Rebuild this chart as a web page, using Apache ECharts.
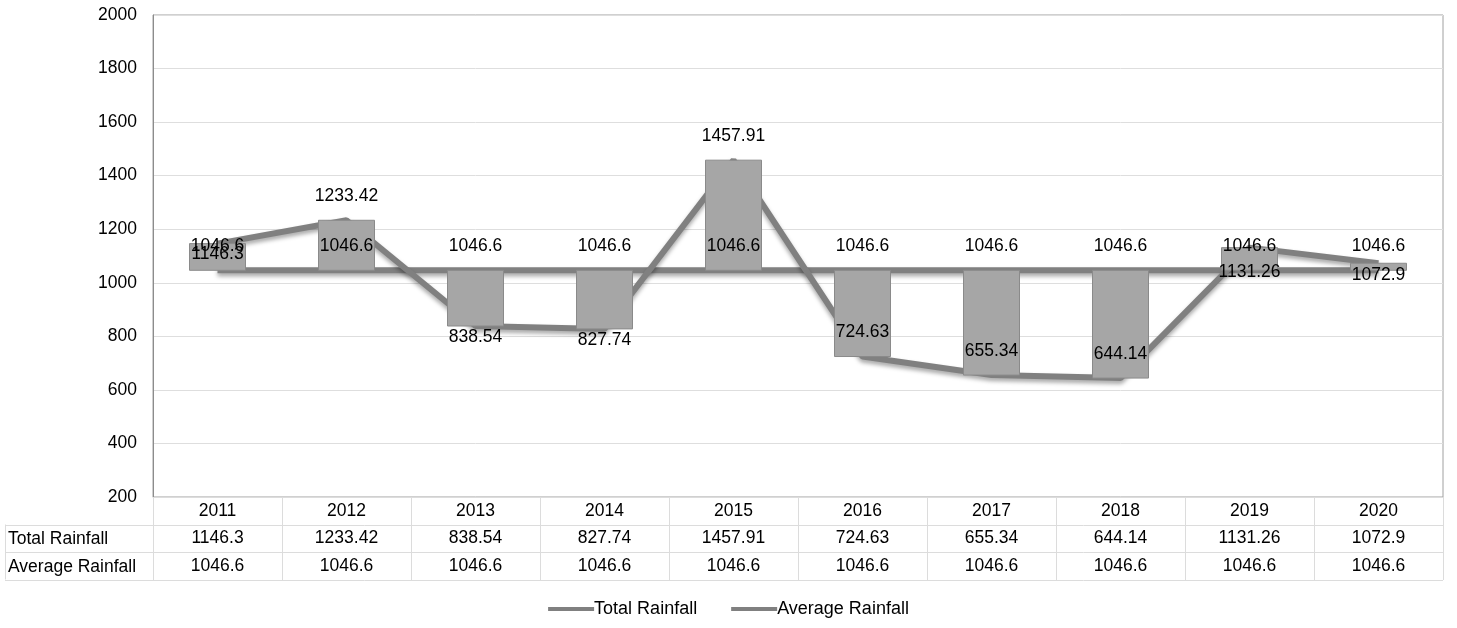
<!DOCTYPE html>
<html>
<head>
<meta charset="utf-8">
<script src="https://cdn.jsdelivr.net/npm/echarts@6/dist/echarts.min.js"></script>
<style>html,body{margin:0;padding:0;background:#fff;}#c{width:1457px;height:628px;}</style>
</head>
<body>
<div id="c"></div>
<script>
const years = ['2011','2012','2013','2014','2015','2016','2017','2018','2019','2020'];
const totalRainfall = [1146.3, 1233.42, 838.54, 827.74, 1457.91, 724.63, 655.34, 644.14, 1131.26, 1072.9];
const averageRainfall = [1046.6, 1046.6, 1046.6, 1046.6, 1046.6, 1046.6, 1046.6, 1046.6, 1046.6, 1046.6];
const yTicks = [200, 400, 600, 800, 1000, 1200, 1400, 1600, 1800, 2000];

// label placement for Total Rainfall value labels (style only)
const totalLabelPlacement = [
  ['bottom', 2], ['top', 15], ['bottom', 2], ['bottom', 2], ['top', 15],
  ['top', 15], ['top', 15], ['top', 15], ['bottom', 16], ['bottom', 3]
];

const FONT = 'Liberation Sans, Arial, sans-serif';
const FS = 17.5;
const G = { left: 153, right: 14, top: 15, bottom: 131 };
const W = 1457, H = 628;
const plotBottom = H - G.bottom;
const plotRight = W - G.right;
const rowH = 27.5;

const chart = echarts.init(document.getElementById('c'));

const totalLabelData = totalRainfall.map((v, i) => ({
  value: [i, v],
  label: { position: totalLabelPlacement[i][0], distance: totalLabelPlacement[i][1] }
}));
const avgLabelData = averageRainfall.map((v, i) => [i, v]);
const upDown = totalRainfall.map((v, i) => {
  const a = averageRainfall[i];
  return [a, v, Math.min(a, v), Math.max(a, v)];
});

const tableLineStyle = { stroke: '#dcdcdc', lineWidth: 1 };
const graphics = [];
[1, 2, 3].forEach(k => {
  const y = Math.round(plotBottom + k * rowH) + 0.5;
  graphics.push({ type: 'line', silent: true, shape: { x1: 5, y1: y, x2: plotRight, y2: y }, style: tableLineStyle });
});
graphics.push({ type: 'line', silent: true, shape: { x1: 5.5, y1: plotBottom + rowH, x2: 5.5, y2: plotBottom + 3 * rowH }, style: tableLineStyle });
graphics.push({ type: 'text', silent: true, style: { text: 'Total Rainfall', x: 8, y: plotBottom + 1.5 * rowH + 1, verticalAlign: 'middle', font: FS + 'px ' + FONT, fill: '#000' } });
graphics.push({ type: 'text', silent: true, style: { text: 'Average Rainfall', x: 8, y: plotBottom + 2.5 * rowH + 1, verticalAlign: 'middle', font: FS + 'px ' + FONT, fill: '#000' } });

const baseXAxis = {
  type: 'category',
  data: years,
  boundaryGap: true,
  position: 'bottom',
  axisLine: { show: false },
  axisTick: { show: false },
  splitLine: { show: false }
};
const tblLabel = { interval: 0, margin: 5, fontFamily: FONT, fontSize: FS, color: '#000' };
const lineStyleCommon = { color: '#808080', width: 6, shadowColor: 'rgba(0,0,0,0.35)', shadowBlur: 4, shadowOffsetY: 3 };
const valueLabel = { show: true, fontFamily: FONT, fontSize: FS, color: '#000' };

chart.setOption({
  animation: false,
  backgroundColor: '#fff',
  grid: { left: G.left, right: G.right, top: G.top, bottom: G.bottom, show: true, borderColor: '#a0a0a0', borderWidth: 1, backgroundColor: 'transparent' },
  legend: {
    bottom: 5,
    left: 'center',
    data: ['Total Rainfall', 'Average Rainfall'],
    icon: 'rect',
    itemWidth: 46,
    itemHeight: 4,
    itemGap: 34,
    textStyle: { fontFamily: FONT, fontSize: 18, color: '#000', padding: [0, 0, 0, -5] }
  },
  xAxis: [
    Object.assign({}, baseXAxis, {
      axisLine: { show: true, lineStyle: { color: '#dcdcdc' } },
      axisTick: { show: true, length: Math.round(3 * rowH), interval: 0, lineStyle: { color: '#dcdcdc' } },
      axisLabel: tblLabel
    }),
    Object.assign({}, baseXAxis, {
      offset: rowH,
      data: totalRainfall.map(String),
      axisLabel: tblLabel
    }),
    Object.assign({}, baseXAxis, {
      offset: 2 * rowH,
      data: averageRainfall.map(String),
      axisLabel: tblLabel
    })
  ],
  yAxis: {
    type: 'value',
    min: yTicks[0],
    max: yTicks[yTicks.length - 1],
    interval: 200,
    axisLine: { show: true, lineStyle: { color: '#8c8c8c' } },
    axisTick: { show: false },
    axisLabel: { margin: 16, fontFamily: FONT, fontSize: FS, color: '#000', formatter: v => String(v) },
    splitLine: { lineStyle: { color: '#dedede' } }
  },
  series: [
    {
      name: 'Average Rainfall',
      type: 'line',
      data: averageRainfall,
      symbol: 'none',
      z: 2,
      lineStyle: lineStyleCommon,
      itemStyle: { color: '#808080' }
    },
    {
      name: 'Total Rainfall',
      type: 'line',
      data: totalRainfall,
      symbol: 'none',
      z: 2,
      lineStyle: lineStyleCommon,
      itemStyle: { color: '#808080' }
    },
    {
      name: 'Up/Down Bars',
      type: 'candlestick',
      data: upDown,
      barWidth: 56,
      z: 3,
      itemStyle: { color: '#a6a6a6', color0: '#a6a6a6', borderColor: '#8a8a8a', borderColor0: '#8a8a8a', borderWidth: 1 }
    },
    {
      name: 'avgLabels',
      type: 'scatter',
      data: avgLabelData,
      symbolSize: 0.01,
      silent: true,
      z: 6,
      itemStyle: { color: 'rgba(0,0,0,0)', opacity: 1 },
      label: Object.assign({ position: 'top', distance: 15 }, valueLabel)
    },
    {
      name: 'totalLabels',
      type: 'scatter',
      data: totalLabelData,
      symbolSize: 0.01,
      silent: true,
      z: 7,
      itemStyle: { color: 'rgba(0,0,0,0)', opacity: 1 },
      label: Object.assign({ formatter: p => String(p.value[1]) }, valueLabel)
    }
  ],
  graphic: graphics
});
</script>
</body>
</html>
